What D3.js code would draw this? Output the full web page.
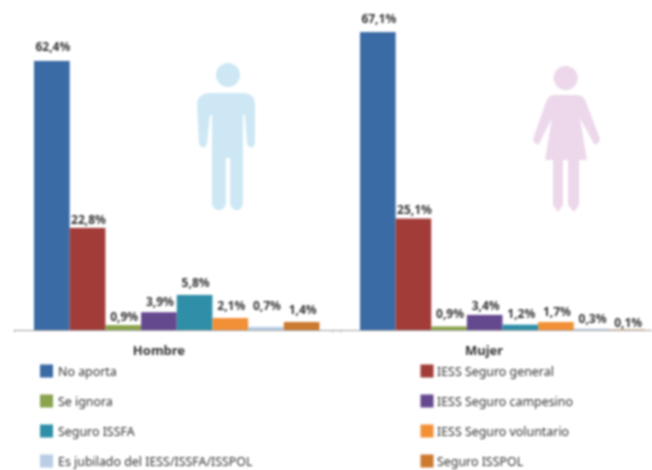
<!DOCTYPE html>
<html>
<head>
<meta charset="utf-8">
<script src="https://d3js.org/d3.v7.min.js"></script>
<style>
  html, body { margin: 0; padding: 0; background: #fff; }
  svg { display: block; filter: blur(0.8px); }
  text { font-family: "Noto Sans", sans-serif; fill: #333; }
</style>
</head>
<body>
<div id="chart"></div>
<script>
var categories = ["No aporta", "IESS Seguro general", "Se ignora", "IESS Seguro campesino",
                  "Seguro ISSFA", "IESS Seguro voluntario", "Es jubilado del IESS/ISSFA/ISSPOL", "Seguro ISSPOL"]
// bar heights, the printed labels don't always agree with them
var hombre = [60.6, 23.0, 1.1, 4.0, 7.9, 2.7, 0.7, 1.8]
var hombreLabels = ["62,4%", "22,8%", "0,9%", "3,9%", "5,8%", "2,1%", "0,7%", "1,4%"]
var mujer = [67.1, 25.1, 0.8, 3.4, 1.2, 1.8, 0.3, 0.1]
var mujerLabels = ["67,1%", "25,1%", "0,9%", "3,4%", "1,2%", "1,7%", "0,3%", "0,1%"]
var colors = ["#3a6ba5", "#a23c39", "#8aa34c", "#65498f", "#2f8fa8", "#f29038", "#b9cde5", "#cb7a30"]
var legendLeft = ["No aporta", "Se ignora", "Seguro ISSFA", "Es jubilado del IESS/ISSFA/ISSPOL"]
var legendRight = ["IESS Seguro general", "IESS Seguro campesino", "IESS Seguro voluntario", "Seguro ISSPOL"]

var width = 652, height = 470

var svg = d3.select("#chart")
  .append("svg")
    .attr("width", width)
    .attr("height", height)

function drawPanel(values, labels, title, o) {
  var x = d3.scaleBand().domain(categories).range([o.x0, o.x1]).padding(0)
  var y = d3.scaleLinear().domain([0, 70]).range([330, 330 - 70 * 4.44])

  var g = svg.append("g")

  g.selectAll("rect")
    .data(values)
    .enter()
    .append("rect")
      .attr("x", function(d, i) { return x(categories[i]) })
      .attr("y", function(d) { return y(d) })
      .attr("width", x.bandwidth())
      .attr("height", function(d) { return y(0) - y(d) })
      .attr("fill", function(d, i) { return colors[i] })

  // axis line runs past the bars on both sides
  var axisScale = d3.scaleLinear().domain([0, 1]).range([o.ax0, o.ax1])
  var axis = g.append("g")
    .attr("transform", "translate(0,330)")
    .call(d3.axisBottom(axisScale).tickValues([0, 1]).tickSize(2).tickSizeOuter(0).tickFormat(""))
  axis.selectAll("path, line").attr("stroke", "#a0a0a0").attr("stroke-width", 1.2)

  g.selectAll("text.val")
    .data(values)
    .enter()
    .append("text")
      .attr("class", "val")
      .attr("x", function(d, i) { return x(categories[i]) + x.bandwidth() / 2 + 1 })
      .attr("y", function(d, i) { return y(d) - o.lift[i] })
      .attr("text-anchor", "middle")
      .attr("font-size", 12)
      .attr("font-weight", "bold")
      .text(function(d, i) { return labels[i] })

  g.append("text")
    .attr("x", o.titleX)
    .attr("y", 355)
    .attr("text-anchor", "middle")
    .attr("font-size", 13)
    .attr("font-weight", "bold")
    .text(title)
}

drawPanel(hombre, hombreLabels, "Hombre", {
  x0: 34, x1: 319.5, ax0: 14, ax1: 340, titleX: 159,
  lift: [10, 4, 4, 6, 8, 8, 17, 8]
})
drawPanel(mujer, mujerLabels, "Mujer", {
  x0: 360, x1: 645, ax0: 332, ax1: 652, titleX: 484,
  lift: [9, 5, 8, 5, 7, 6, 6, 3]
})

// silhouettes
var man = svg.append("g").attr("fill", "#cde8f4")
man.append("circle").attr("cx", 228).attr("cy", 75).attr("r", 12)
man.append("path")
  .attr("d", "M209,93 H245 Q255,94 255,105 V144 Q251,151 247,144 L245,115 H243 V204 Q241,211 236,210 Q231,209 230,203 V158 H226 V203 Q225,209 220,210 Q214,211 212,204 V115 H210 L207,144 Q203,151 199,144 L197,105 Q197,94 209,93 Z")

var woman = svg.append("g").attr("fill", "#ecd8ea")
woman.append("circle").attr("cx", 565.7).attr("cy", 78).attr("r", 12)
woman.append("path")
  .attr("d", "M553,95 H578 Q584,96 586,102 L600,139 Q598,146 594,144 L580,118 L587,160 H579 V205 L574,212 L568,205 V160 H563 V205 L558,212 L553,205 V160 H545 L552,118 L539,144 Q535,146 533,139 L546,102 Q548,96 553,95 Z")

function drawLegend(labels, swatchX, textX) {
  var rowY = d3.scalePoint().domain(labels).range([371, 461])
  var rows = svg.append("g").selectAll("g")
    .data(labels)
    .enter()
    .append("g")
      .attr("transform", function(d) { return "translate(0," + rowY(d) + ")" })

  rows.append("rect")
    .attr("x", swatchX)
    .attr("y", -6.5)
    .attr("width", 13)
    .attr("height", 13)
    .attr("fill", function(d) { return colors[categories.indexOf(d)] })

  rows.append("text")
    .attr("x", textX)
    .attr("y", 5)
    .attr("font-size", 12.4)
    .attr("fill", "#555")
    .text(function(d) { return d })
}

drawLegend(legendLeft, 40, 58)
drawLegend(legendRight, 420.5, 437)
</script>
</body>
</html>
